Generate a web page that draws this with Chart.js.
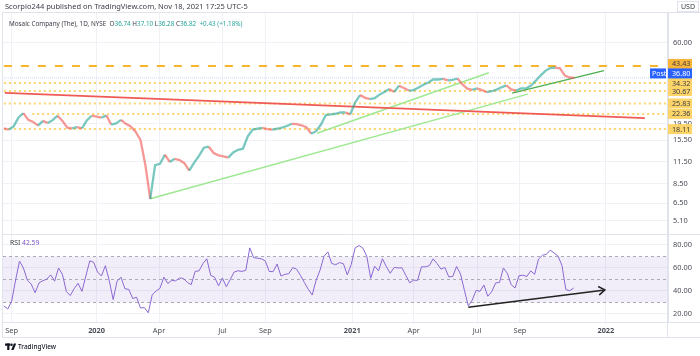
<!DOCTYPE html>
<html><head><meta charset="utf-8">
<script src="https://cdn.jsdelivr.net/npm/chart.js@4.4.1/dist/chart.umd.min.js"></script>
<style>
html,body{margin:0;padding:0;background:#fff;}
#wrap{position:relative;width:700px;height:356px;overflow:hidden;}
canvas{position:absolute;left:0;top:0;}
</style></head><body>
<div id="wrap"><canvas id="price" width="700" height="356"></canvas><canvas id="rsi" width="700" height="356"></canvas></div>
<script>
// ---------- DATA ----------
const firstDate = '2019-08-22';          // first sampled session
const priceStep = 5;                     // one close per week (sessions)
const closes = [18.3,18.0,18.8,21.3,22.6,20.6,20.0,19.0,20.3,19.7,
  20.5,21.8,20.3,18.5,18.3,18.6,18.3,20.4,21.8,21.5,
  21.2,21.9,19.3,19.6,20.6,19.5,18.8,17.5,15.6,11.0,
  6.9,11.0,11.2,12.7,11.5,12.0,11.8,11.3,10.2,11.4,
  12.5,14.0,14.2,13.0,12.6,12.4,12.2,13.1,13.6,13.8,
  16.4,18.0,18.2,18.4,18.1,18.0,18.2,18.5,18.9,19.5,
  19.4,19.1,18.6,17.0,17.6,19.3,22.0,22.2,22.4,22.8,
  22.8,22.2,26.2,29.0,28.0,27.4,27.8,29.2,30.3,31.6,
  30.3,33.0,32.0,30.9,31.1,32.2,33.5,34.5,36.0,36.0,
  36.3,35.6,35.8,36.5,33.6,31.7,31.2,31.8,31.1,30.2,
  30.6,31.3,32.3,33.2,31.4,30.9,31.8,31.8,33.0,35.3,
  38.0,40.6,42.2,42.5,42.0,38.0,37.0,36.82];

const rsiStep = 4;                       // one RSI reading every 4 sessions
const rsiValues = [27,24.3,31.2,49.5,66,60,49.4,46,38.5,47,
  49,50.3,54,48.5,60,54.5,39.5,36,42,46.7,
  39.6,53,66.2,65,56.5,53,62,49,32.5,48.5,
  52,42,41.4,33.5,34.5,25.2,25.5,21,36.7,40,
  42.3,52,46.5,49.2,48.8,51.3,50.9,47.5,45.5,57,
  57.5,63.8,68,53.5,52,44.4,51.3,43.6,50,56.5,
  57.6,57,58,77.5,69,68.5,68,66,57,56.8,
  63.5,53,54.5,55,60.3,59,53.6,47.3,41.5,36.5,
  49.3,58,70,74,64,62.8,64.7,63.7,54,63,
  77.5,79.5,77.3,70,51,61.6,57.5,68,61.2,55.4,
  60.5,60,60.2,53.5,47.1,49.4,49.2,61,61,62,
  68,63.8,59,60.4,52.3,52.5,61.3,54.8,40.7,27,
  32,40.5,39.7,45.2,35.4,39.3,47,47.4,60,55.4,
  45.4,42.6,53.3,53.7,52.6,57.5,54.5,67.8,71.1,71.8,
  75.5,73,70.3,62.2,41.2,40.2,42.59];

const tickDates  = ['2019-09-03','2020-01-02','2020-04-01','2020-07-01','2020-09-01','2021-01-04','2021-04-01','2021-07-01','2021-09-01','2022-01-03'];
const tickLabels = ['Sep','2020','Apr','Jul','Sep','2021','Apr','Jul','Sep','2022'];
const priceTicks = [60, 19.5, 15.5, 11.5, 8.5, 6.5, 5.1];
const rsiTicks   = [20, 40, 60, 80];

const resistance = 43.43;
const lastPrice  = 36.80;
const levelValues     = [34.32, 30.67, 25.83, 22.36, 18.11];
const levelStartDates = ['2019-08-22','2019-08-22','2019-08-22','2019-10-02','2019-08-22'];

const redTrendDates   = ['2019-08-23','2022-02-28'];  const redTrendPrices   = [29.9, 21.1];
const longTrendDates  = ['2020-03-19','2021-09-13'];  const longTrendPrices  = [6.9, 29.4];
const shortTrendDates = ['2020-11-13','2021-07-19'];  const shortTrendPrices = [17.1, 39.5];
const darkTrendDates  = ['2021-08-20','2021-12-30'];  const darkTrendPrices  = [29.8, 40.7];
const rsiArrowDates   = ['2021-06-18','2021-12-31'];  const rsiArrowValues   = [25.8, 40.9];

const headerText = 'Scorpio244 published on TradingView.com, Nov 18, 2021 17:25 UTC-5';
const symbolText = 'Mosaic Company (The), 1D, NYSE';
const ohlc = [['O','36.74'],['H','37.10'],['L','36.28'],['C','36.82']];
const changeText = '+0.43 (+1.18%)';
const rsiLast = '42.59';

// ---------- HELPERS ----------
const FAM = '"Noto Sans", "DejaVu Sans", sans-serif';
const GRID = '#eff1f6', BORDER = '#e0e3eb', TEXT = '#4a4d57';
const UP = 'rgba(38,166,154,0.62)', DOWN = 'rgba(239,83,80,0.6)';

function sessionOf(d){
  const p = s => { const [y,m,dd] = s.split('-').map(Number); return Date.UTC(y,m-1,dd); };
  let t = p(firstDate); const end = p(d); let n = 0;
  while (t < end){ t += 864e5; const w = new Date(t).getUTCDay(); if (w !== 0 && w !== 6) n++; }
  return n;
}
const X_MIN = -0.92, X_MAX = 680.7;
const tickSessions = tickDates.map(sessionOf);

const pricePoints = closes.map((c,i)=>({x:i*priceStep, y:c}));
const rsiPoints = rsiValues.map((v,i)=>({x:i*rsiStep, y:v}));

function seg(dates, vals){ return dates.map((d,i)=>({x:sessionOf(d), y:vals[i]})); }
function lineDs(data, color, width, dash, order){
  return {type:'line', data, borderColor:color, borderWidth:width, borderDash:dash||[], pointRadius:0, fill:false, tension:0, order:order||2};
}
function fitSize(ctx, text, width, weight){
  ctx.font = `${weight||'normal'} 10px ${FAM}`;
  return 10*width/ctx.measureText(text).width;
}

// ---------- PRICE PANE ----------
const priceDatasets = [
  {type:'line', data:pricePoints, borderWidth:2.3, pointRadius:0, tension:0, fill:false, order:0,
   borderColor:UP, segment:{borderColor:c=> c.p1.parsed.y >= c.p0.parsed.y ? UP : DOWN}},
  lineDs([{x:0,y:resistance},{x:X_MAX,y:resistance}], '#f7b52b', 2, [8,9], 3),
  lineDs([{x:0,y:lastPrice},{x:X_MAX,y:lastPrice}], '#c9d3f3', 1, [1,1], 3),
];
levelValues.forEach((v,i)=>priceDatasets.push(lineDs([{x:sessionOf(levelStartDates[i]),y:v},{x:X_MAX,y:v}], '#fdd470', 2, [2,3], 3)));
priceDatasets.push(lineDs(seg(redTrendDates, redTrendPrices), '#f05a55', 1.6, [], 1));
priceDatasets.push(lineDs(seg(longTrendDates, longTrendPrices), '#9ee892', 1.5, [], 1));
priceDatasets.push(lineDs(seg(shortTrendDates, shortTrendPrices), '#9ee892', 1.5, [], 1));
priceDatasets.push(lineDs(seg(darkTrendDates, darkTrendPrices), '#4caf50', 1.5, [], 1));

const priceDecor = {
  id:'priceDecor',
  afterDraw(chart){
    const {ctx, scales:{y}} = chart;
    ctx.save();
    ctx.textBaseline = 'middle';
    // header
    let fs = fitSize(ctx, headerText, 243);
    ctx.font = `${fs}px ${FAM}`; ctx.fillStyle = '#3a3d47';
    ctx.fillText(headerText, 5, 6.5);
    // legend (fitted to full legend width)
    const full = symbolText + '  ' + ohlc.map(([k,v])=>k+v).join(' ') + '  ' + changeText;
    fs = fitSize(ctx, full, 234);
    ctx.font = `${fs}px ${FAM}`;
    let x = 9; const ly = 24.5;
    ctx.fillStyle = '#3a3d47'; ctx.fillText(symbolText, x, ly); x += ctx.measureText(symbolText + '  ').width;
    ohlc.forEach(([k,v])=>{
      ctx.fillStyle = '#3a3d47'; ctx.fillText(k, x, ly); x += ctx.measureText(k).width;
      ctx.fillStyle = '#26a69a'; ctx.fillText(v, x, ly); x += ctx.measureText(v + ' ').width;
    });
    x += ctx.measureText(' ').width;
    ctx.fillStyle = '#26a69a'; ctx.fillText(changeText, x, ly);
    // USD box
    ctx.strokeStyle = BORDER; ctx.lineWidth = 1; ctx.strokeRect(677.5, 1.5, 21, 10);
    ctx.font = `7px ${FAM}`; ctx.fillStyle = '#3a3d47'; ctx.fillText('USD', 681, 7);
    // axis label boxes (TradingView nudges overlapping labels)
    const box = (v, shift, bg, fg, txt) => {
      const py = y.getPixelForValue(v) + shift;
      ctx.fillStyle = bg; ctx.fillRect(668, py-5, 24, 10);
      ctx.fillStyle = fg; ctx.font = `7.2px ${FAM}`; ctx.fillText(txt, 672, py+0.5);
      return py;
    };
    levelValues.forEach(v=>box(v, 0, '#fcd468', '#3a3d47', v.toFixed(2)));
    box(resistance, -2, '#f7b43a', '#3a3d47', resistance.toFixed(2));
    const pp = box(lastPrice, -4.5, '#2962ff', '#fff', lastPrice.toFixed(2));
    ctx.fillStyle = '#2962ff'; ctx.fillRect(650, pp-5, 16, 10);
    ctx.fillStyle = '#fff'; ctx.font = `7px ${FAM}`; ctx.fillText('Post', 652, pp+0.5);
    ctx.restore();
  }
};

new Chart(document.getElementById('price'), {
  type:'line',
  data:{datasets:priceDatasets},
  options:{
    responsive:false, animation:false, events:[],
    layout:{padding:{top:13,left:3,right:0,bottom:121}},
    plugins:{legend:{display:false}, tooltip:{enabled:false}},
    scales:{
      x:{type:'linear', min:X_MIN, max:X_MAX, offset:false,
         afterBuildTicks:s=>{s.ticks = tickSessions.map(v=>({value:v}));},
         ticks:{display:false}, grid:{color:GRID, drawTicks:false, offset:false}, border:{display:false},
         afterFit:s=>{s.height = 0;}},
      y:{type:'logarithmic', position:'right', min:4.18, max:90.4,
         afterBuildTicks:s=>{s.ticks = priceTicks.map(v=>({value:v}));},
         ticks:{callback:v=>Number(v).toFixed(2), font:{size:7.4, family:FAM}, color:TEXT, padding:5, crossAlign:'near'},
         grid:{color:GRID, drawTicks:false}, border:{color:BORDER},
         afterFit:s=>{s.width = 32;}}
    }
  },
  plugins:[priceDecor]
});

// ---------- RSI PANE ----------
const rsiDecor = {
  id:'rsiDecor',
  beforeDatasetsDraw(chart){
    const {ctx, chartArea:a, scales:{y}} = chart;
    ctx.save();
    const y70 = y.getPixelForValue(70), y30 = y.getPixelForValue(30), y50 = y.getPixelForValue(50);
    ctx.fillStyle = 'rgba(126,87,194,0.10)';
    ctx.fillRect(a.left, y70, a.right-a.left, y30-y70);
    ctx.strokeStyle = '#a9abb5'; ctx.lineWidth = 1; ctx.setLineDash([3,3]);
    [y70,y50,y30].forEach(py=>{ ctx.beginPath(); ctx.moveTo(a.left, Math.round(py)+0.5); ctx.lineTo(a.right, Math.round(py)+0.5); ctx.stroke(); });
    ctx.restore();
  },
  afterDraw(chart){
    const {ctx, chartArea:a, scales:{x,y}} = chart;
    ctx.save();
    // arrow head
    const x1 = x.getPixelForValue(sessionOf(rsiArrowDates[0])), y1 = y.getPixelForValue(rsiArrowValues[0]);
    const x2 = x.getPixelForValue(sessionOf(rsiArrowDates[1])), y2 = y.getPixelForValue(rsiArrowValues[1]);
    const ang = Math.atan2(y2-y1, x2-x1), L = 7;
    ctx.strokeStyle = '#222'; ctx.lineWidth = 1.5; ctx.lineCap = 'round';
    ctx.beginPath();
    ctx.moveTo(x2 - L*Math.cos(ang-0.6), y2 - L*Math.sin(ang-0.6));
    ctx.lineTo(x2, y2);
    ctx.lineTo(x2 - L*Math.cos(ang+0.6), y2 - L*Math.sin(ang+0.6));
    ctx.stroke();
    // RSI label
    ctx.textBaseline = 'middle';
    ctx.font = `6.8px ${FAM}`; ctx.fillStyle = '#3a3d47'; ctx.fillText('RSI', 10, 243.5);
    ctx.fillStyle = '#7e57c2'; ctx.fillText(rsiLast, 22, 243.5);
    // frame lines
    ctx.strokeStyle = BORDER; ctx.lineWidth = 1; ctx.lineCap = 'butt';
    const h = (yy, x0, x1_) => { ctx.beginPath(); ctx.moveTo(x0, yy+0.5); ctx.lineTo(x1_, yy+0.5); ctx.stroke(); };
    const v = (xx, y0, y1_) => { ctx.beginPath(); ctx.moveTo(xx+0.5, y0); ctx.lineTo(xx+0.5, y1_); ctx.stroke(); };
    h(12, 3, 700); h(234, 3, 700); h(a.bottom, 668, 700); h(337, 3, 700);
    v(2, 12, 338); v(667, 12, 338);
    // TradingView logo
    ctx.fillStyle = '#131722';
    ctx.fillRect(5, 343.5, 5.2, 2.2); ctx.fillRect(7.2, 343.5, 2.2, 6.5);
    ctx.beginPath(); ctx.arc(11.5, 344.8, 1.25, 0, Math.PI*2); ctx.fill();
    ctx.beginPath(); ctx.moveTo(11.2, 350); ctx.lineTo(13.8, 343.5); ctx.lineTo(16.2, 343.5); ctx.lineTo(13.6, 350); ctx.closePath(); ctx.fill();
    const fs = fitSize(ctx, 'TradingView', 38, '500');
    ctx.font = `500 ${fs}px ${FAM}`; ctx.fillText('TradingView', 18, 347);
    ctx.restore();
  }
};

new Chart(document.getElementById('rsi'), {
  type:'line',
  data:{datasets:[
    {data:rsiPoints, borderColor:'#8a68d2', borderWidth:1, pointRadius:0, tension:0, fill:false},
    {data:seg(rsiArrowDates, rsiArrowValues), borderColor:'#222', borderWidth:1.5, pointRadius:0, tension:0, fill:false}
  ]},
  options:{
    responsive:false, animation:false, events:[],
    layout:{padding:{top:235,left:3,right:0,bottom:19}},
    plugins:{legend:{display:false}, tooltip:{enabled:false}},
    scales:{
      x:{type:'linear', min:X_MIN, max:X_MAX, offset:false,
         afterBuildTicks:s=>{s.ticks = tickSessions.map(v=>({value:v}));},
         ticks:{callback:(v,i)=>tickLabels[i], autoSkip:false, maxRotation:0, padding:4, color:TEXT,
                font:c=>({size:7.4, family:FAM, weight:/^\d{4}$/.test(tickLabels[c.index]||'')?'bold':'normal'})},
         grid:{color:GRID, drawTicks:false}, border:{color:BORDER},
         afterFit:s=>{s.height = 15;}},
      y:{position:'right', min:13, max:88.7,
         afterBuildTicks:s=>{s.ticks = rsiTicks.map(v=>({value:v}));},
         ticks:{callback:v=>Number(v).toFixed(2), font:{size:7.4, family:FAM}, color:TEXT, padding:5, crossAlign:'near'},
         grid:{color:GRID, drawTicks:false}, border:{color:BORDER},
         afterFit:s=>{s.width = 32;}}
    }
  },
  plugins:[rsiDecor]
});
</script>
</body></html>
